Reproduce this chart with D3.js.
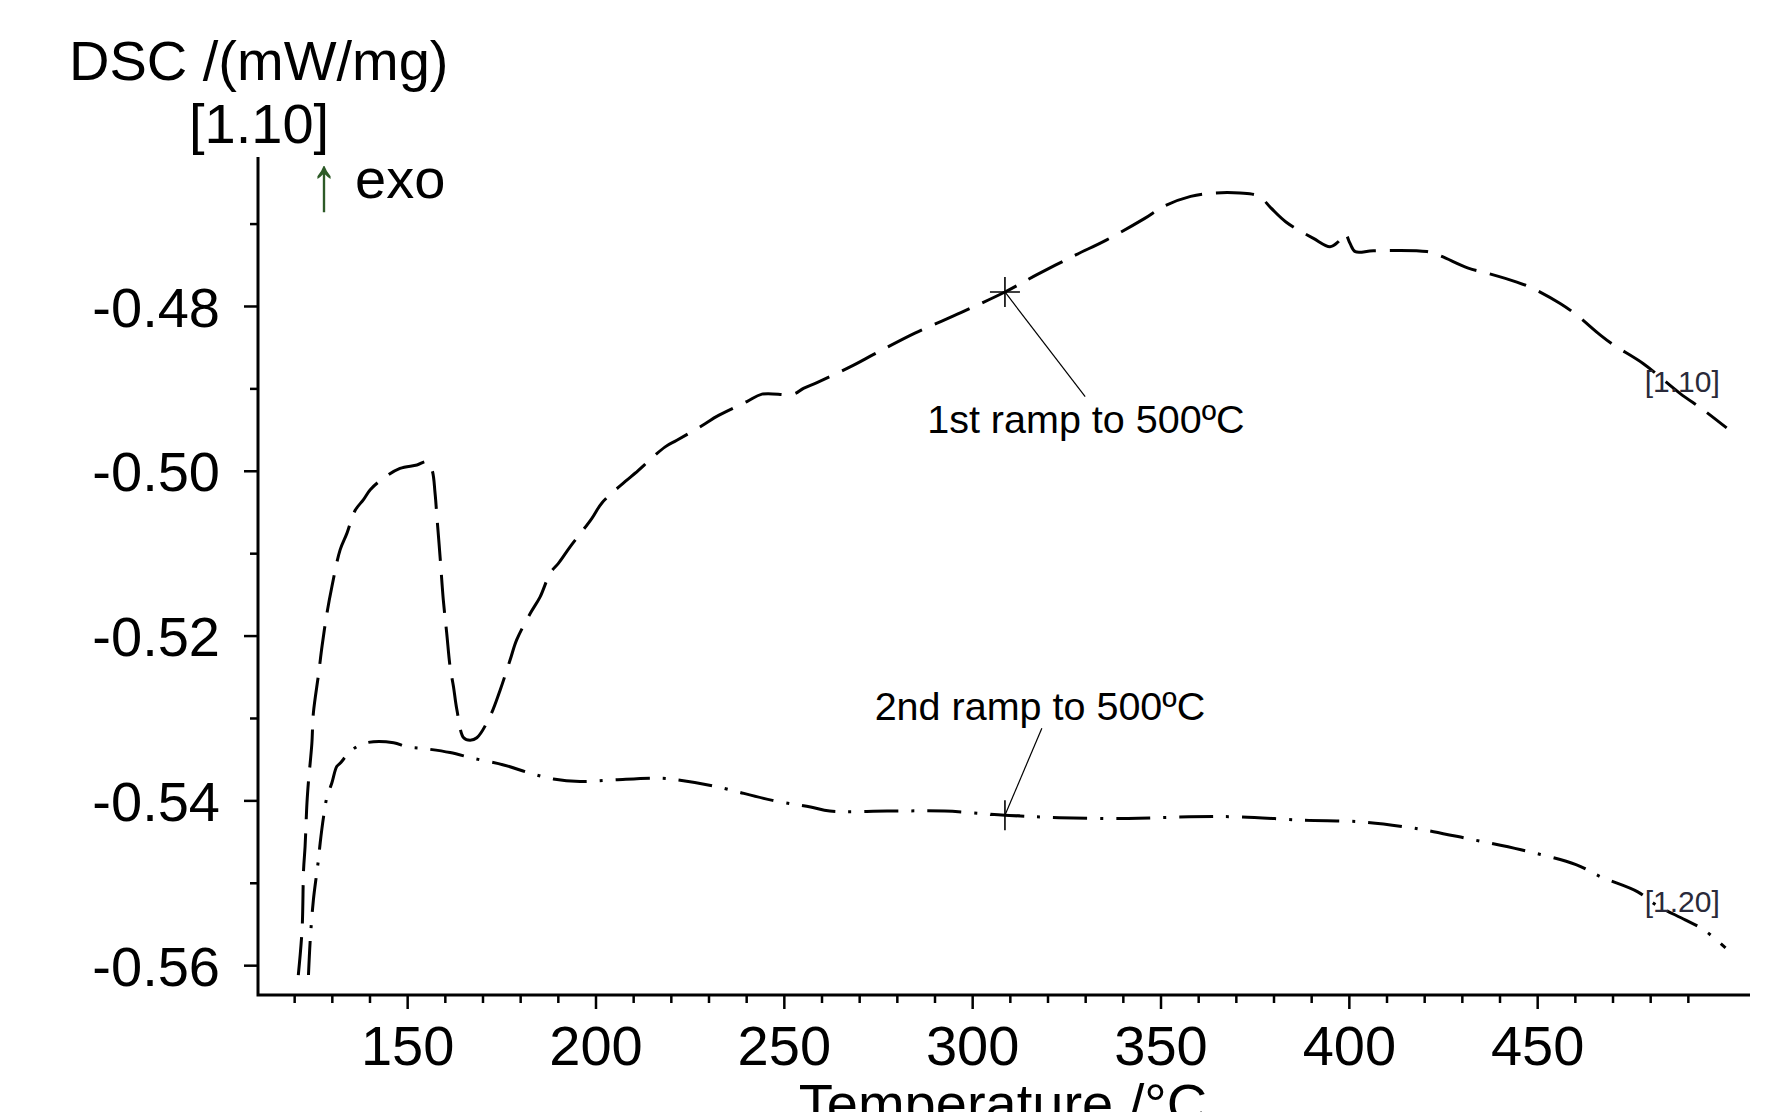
<!DOCTYPE html>
<html>
<head>
<meta charset="utf-8">
<script src="https://cdn.jsdelivr.net/npm/d3@7/dist/d3.min.js"></script>
<style>
  html, body { margin: 0; padding: 0; background: #fff; }
  svg { display: block; }
  text { font-family: "Liberation Sans", Arial, sans-serif; fill: #000; }
</style>
</head>
<body>
<script>
// ---------------- data ----------------
const temps1 = [121.1,122.1,122.5,122.9,123.4,123.8,124.7,125.1,126.5,127.4,
  128.7,130.0,132.2,134.0,136.2,138.4,140.2,143.7,148.1,152.6,
  155.2,156.6,157.4,157.9,158.8,159.6,160.5,161.4,162.3,163.2,
  165.0,166.7,168.5,172.0,174.7,177.3,179.1,182.7,185.3,188.0,
  190.2,193.3,199.0,201.7,207.9,210.5,218.5,221.6,229.1,232.2,
  240.2,244.2,252.6,255.2,258.8,267.6,274.6,284.8,297.0,308.7,
  317.2,327.5,335.6,345.7,350.9,358.0,364.0,371.1,376.2,379.3,
  383.3,390.6,395.0,397.2,399.0,400.3,401.7,406.5,420.7,424.2,
  431.7,436.6,444.6,449.0,456.1,460.5,466.7,470.2,478.2,487.9,
  494.1,500.3];
const dsc1 = [-0.5612,-0.5557,-0.5484,-0.5456,-0.5403,-0.5377,-0.5331,-0.5294,-0.5246,-0.5213,
  -0.5173,-0.5141,-0.5096,-0.5076,-0.5048,-0.5035,-0.5023,-0.5009,-0.4997,-0.4993,
  -0.4989,-0.4999,-0.5027,-0.5056,-0.5108,-0.5157,-0.5197,-0.5238,-0.5262,-0.5290,
  -0.5324,-0.5327,-0.5324,-0.5298,-0.5266,-0.5230,-0.5205,-0.5173,-0.5153,-0.5124,
  -0.5112,-0.5092,-0.5058,-0.5039,-0.5013,-0.5003,-0.4971,-0.4963,-0.4943,-0.4934,
  -0.4916,-0.4907,-0.4907,-0.4900,-0.4893,-0.4874,-0.4857,-0.4833,-0.4808,-0.4783,
  -0.4762,-0.4738,-0.4720,-0.4694,-0.4679,-0.4667,-0.4663,-0.4663,-0.4667,-0.4681,
  -0.4698,-0.4718,-0.4728,-0.4722,-0.4712,-0.4724,-0.4734,-0.4733,-0.4734,-0.4739,
  -0.4754,-0.4760,-0.4771,-0.4779,-0.4797,-0.4811,-0.4835,-0.4847,-0.4870,-0.4906,
  -0.4926,-0.4948];

const temps2 = [123.8,124.3,125.1,126.0,126.5,126.9,127.8,128.7,130.0,131.3,
  132.2,135.3,139.3,146.4,149.9,154.3,161.4,167.6,175.6,182.7,
  188.8,195.9,204.8,216.5,221.5,231.7,247.0,257.1,262.2,277.4,
  292.7,308.7,323.1,341.4,357.6,371.1,387.6,403.1,414.7,422.5,
  431.1,445.7,460.3,467.0,476.7,481.6,489.3,494.2,500.0];
const dsc2 = [-0.5612,-0.5567,-0.5521,-0.5488,-0.5470,-0.5452,-0.5420,-0.5396,-0.5379,-0.5359,
  -0.5355,-0.5339,-0.5330,-0.5330,-0.5335,-0.5337,-0.5342,-0.5349,-0.5357,-0.5367,
  -0.5374,-0.5377,-0.5375,-0.5373,-0.5375,-0.5383,-0.5400,-0.5408,-0.5413,-0.5413,
  -0.5413,-0.5418,-0.5421,-0.5422,-0.5420,-0.5420,-0.5424,-0.5426,-0.5432,-0.5438,
  -0.5446,-0.5460,-0.5478,-0.5493,-0.5511,-0.5527,-0.5545,-0.5557,-0.5579];

const xMajorTicks = [150, 200, 250, 300, 350, 400, 450];
const xMinorTicks = [120,130,140,160,170,180,190,210,220,230,240,260,270,280,290,
  310,320,330,340,360,370,380,390,410,420,430,440,460,470,480,490];
const yMajorTicks = [-0.56, -0.54, -0.52, -0.50, -0.48];
const yMinorTicks = [-0.55, -0.53, -0.51, -0.49, -0.47];

const seriesNames = ["1st ramp to 500ºC", "2nd ramp to 500ºC"];
const endLabels = ["[1.10]", "[1.20]"];
// annotation anchors in data units: marker, leader end, label position
const markers = [[308.7, -0.4783], [308.7, -0.5418]];
const leaderEnds = [[330.0, -0.4910], [318.5, -0.53125]];
const labelPos = [[330.2, -0.49541], [318.0, -0.53024]];
const endLabelPos = [[488.5, -0.49044], [488.5, -0.55354]];

// ---------------- chart ----------------
const W = 1772, H = 1112;
const svg = d3.select("body").append("svg").attr("width", W).attr("height", H);

const x = d3.scaleLinear().domain([110.4, 506.5]).range([258, 1750]);
const y = d3.scaleLinear().domain([-0.56362, -0.46192]).range([995, 157]);

// axes
const xAxisMinor = d3.axisBottom(x).tickValues(xMinorTicks).tickSize(8).tickFormat("");
const xAxisMajor = d3.axisBottom(x).tickValues(xMajorTicks).tickSize(14).tickFormat(d3.format("d"));
const yAxisMinor = d3.axisLeft(y).tickValues(yMinorTicks).tickSize(8).tickFormat("");
const yAxisMajor = d3.axisLeft(y).tickValues(yMajorTicks).tickSize(14).tickFormat(d => d.toFixed(2));

function styleAxis(g) {
  g.select(".domain").remove();
  g.selectAll(".tick line").attr("stroke", "#000").attr("stroke-width", 2.5);
  g.selectAll("text").style("font-family", "'Liberation Sans', Arial, sans-serif")
    .style("font-size", "56px").attr("fill", "#000");
}

svg.append("g").attr("transform", "translate(0,995)").call(xAxisMinor).call(styleAxis);
const gx = svg.append("g").attr("transform", "translate(0,995)").call(xAxisMajor).call(styleAxis);
gx.selectAll("text").attr("y", 70).attr("dy", 0);

svg.append("g").attr("transform", "translate(258,0)").call(yAxisMinor).call(styleAxis);
const gy = svg.append("g").attr("transform", "translate(258,0)").call(yAxisMajor).call(styleAxis);
gy.selectAll("text").attr("x", -38).attr("dy", "0.36em");

// axis lines
svg.append("path")
  .attr("d", `M${x.range()[0]},${y.range()[1]} V${y.range()[0]} H${x.range()[1]}`)
  .attr("fill", "none").attr("stroke", "#000").attr("stroke-width", 3);

// titles
svg.append("text").attr("x", 69).attr("y", 80).style("font-size", "56px").text("DSC /(mW/mg)");
svg.append("text").attr("x", 189).attr("y", 143).style("font-size", "56px").text("[1.10]");
svg.append("text").attr("transform", "translate(324,210) scale(1,1.4)").attr("text-anchor", "middle")
  .style("font-size", "56px").style("fill", "#2d5a27").text("↑");
svg.append("text").attr("x", 355).attr("y", 198).style("font-size", "56px").text("exo");
svg.append("text").attr("x", 1003).attr("y", 1123).attr("text-anchor", "middle")
  .style("font-size", "56px").text("Temperature /°C");

// curves
const line = d3.line().x(d => x(d[0])).y(d => y(d[1])).curve(d3.curveCatmullRom.alpha(0.5));
const data1 = temps1.map((t, i) => [t, dsc1[i]]);
const data2 = temps2.map((t, i) => [t, dsc2[i]]);

svg.append("path").datum(data1).attr("d", line)
  .attr("fill", "none").attr("stroke", "#000").attr("stroke-width", 3)
  .attr("stroke-dasharray", "38,14");
svg.append("path").datum(data2).attr("d", line)
  .attr("fill", "none").attr("stroke", "#000").attr("stroke-width", 3)
  .attr("stroke-dasharray", "34,13,3,13");

// markers, leaders, labels
markers.forEach((m, i) => {
  const mx = x(m[0]), my = y(m[1]);
  svg.append("path").attr("d", `M${mx - 15},${my} H${mx + 15} M${mx},${my - 15} V${my + 15}`)
    .attr("stroke", "#000").attr("stroke-width", 1.6).attr("fill", "none");
  svg.append("line").attr("x1", mx).attr("y1", my)
    .attr("x2", x(leaderEnds[i][0])).attr("y2", y(leaderEnds[i][1]))
    .attr("stroke", "#000").attr("stroke-width", 1.2);
  svg.append("text").attr("x", x(labelPos[i][0])).attr("y", y(labelPos[i][1]))
    .attr("text-anchor", "middle").style("font-size", "39.5px").text(seriesNames[i]);
  svg.append("text").attr("x", x(endLabelPos[i][0])).attr("y", y(endLabelPos[i][1]))
    .attr("text-anchor", "middle").style("font-size", "30px").style("fill", "#2a2a3a").text(endLabels[i]);
});
</script>
</body>
</html>
